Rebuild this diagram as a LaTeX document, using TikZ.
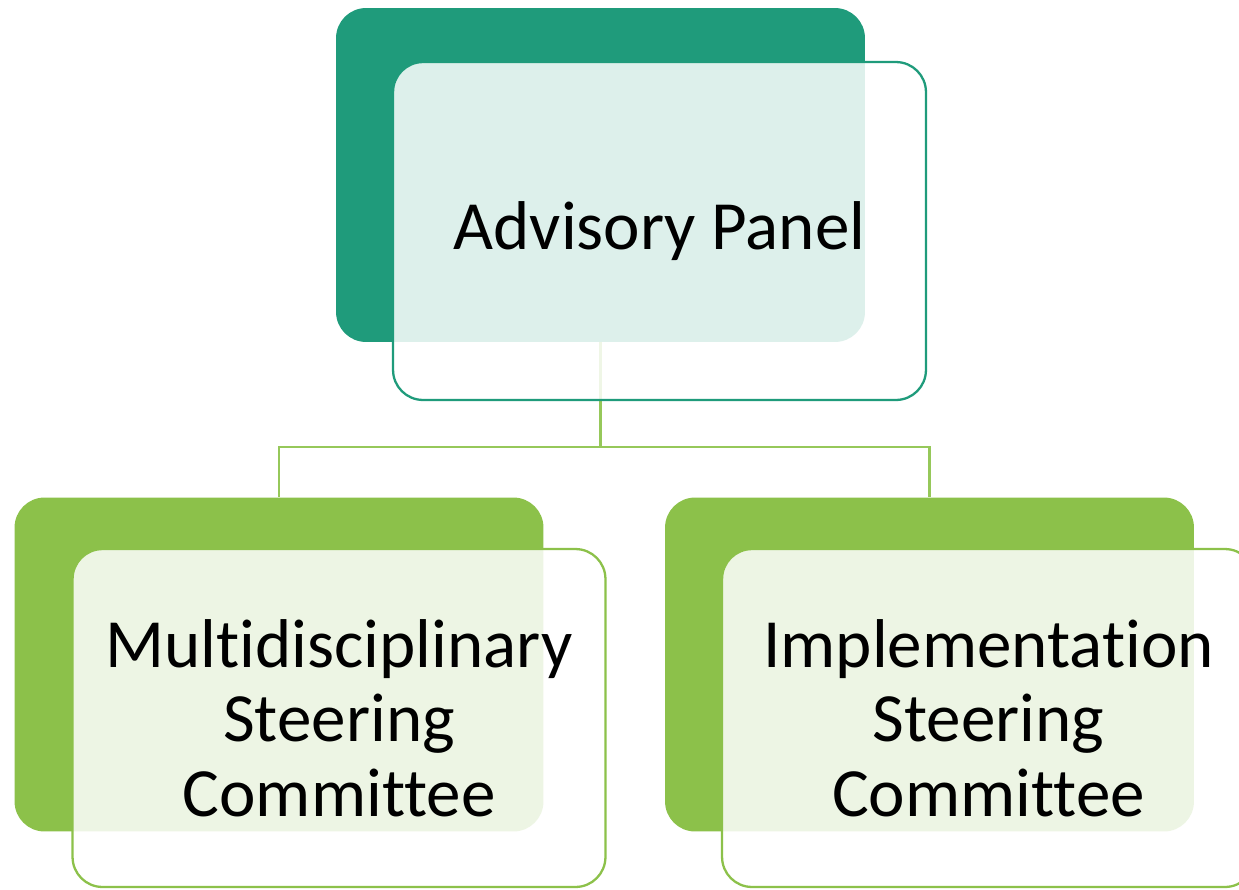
\documentclass[tikz,border=0pt]{standalone}
\usepackage{fontspec}
\setmainfont{Carlito}[Ligatures={NoCommon}]
\usetikzlibrary{positioning}
\definecolor{panelteal}{RGB}{31,155,123}
\definecolor{cttgreen}{RGB}{140,193,74}
\definecolor{linkgreen}{RGB}{150,200,90}

\begin{document}
\begin{tikzpicture}[x=0.02cm,y=-0.02cm,
    back/.style={rounded corners=0.6cm, inner sep=0pt,
      minimum width=10.58cm, minimum height=6.68cm},
    front/.style={draw, line width=1.3pt, fill=white, fill opacity=0.85,
      text opacity=1, rounded corners=0.6cm, inner sep=0pt,
      minimum width=10.66cm, minimum height=6.76cm, align=center,
      font=\fontsize{39.3}{42.5}\selectfont},
    link/.style={draw=linkgreen, line width=1.3pt}]
    \useasboundingbox (0,0) rectangle (1239,889);
    % coloured back plates
    \node[back, fill=panelteal] (advback) at (600.5,175) {};
    \node[back, fill=cttgreen] (mscback) at (279,664.5) {};
    \node[back, fill=cttgreen] (iscback) at (929.5,664.5) {};
    % connectors
    \coordinate (split) at (600.5,447);
    \draw[link] (advback.south) -- (split) -| (mscback.north);
    \draw[link] (split) -| (iscback.north);
    % front boxes
    \node[front, draw=panelteal] (adv) at (659.5,231) {Advisory Panel};
    \node[front, draw=cttgreen] (msc) at (339,718) {Multidisciplinary\\Steering\\Committee};
    \node[front, draw=cttgreen] (isc) at (988.5,718) {Implementation\\Steering\\Committee};
\end{tikzpicture}
\end{document}
